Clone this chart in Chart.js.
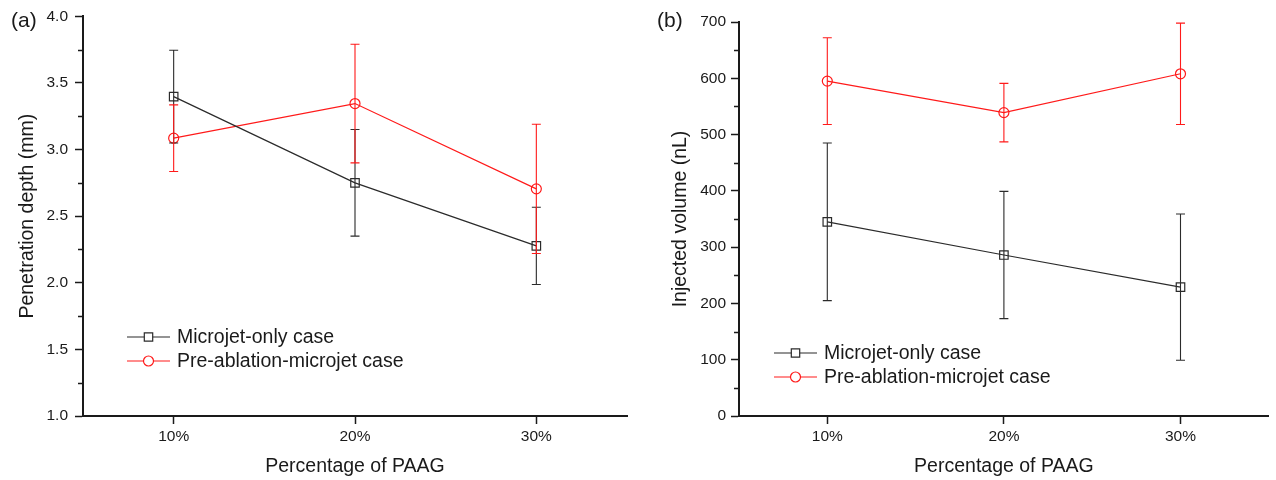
<!DOCTYPE html>
<html>
<head>
<meta charset="utf-8">
<script src="https://cdn.jsdelivr.net/npm/chart.js@4"></script>
<style>
  html, body { margin: 0; padding: 0; background: #fff; }
  #wrap { position: relative; width: 1276px; height: 480px; }
  canvas { position: absolute; top: 0; }
  #left { left: 0; }
  #right { left: 638px; }
</style>
</head>
<body>
<div id="wrap">
  <canvas id="left" width="638" height="480"></canvas>
  <canvas id="right" width="638" height="480"></canvas>
</div>
<script>
// Data
const categories = ['10%', '20%', '30%'];
const seriesNames = ['Microjet-only case', 'Pre-ablation-microjet case'];

// (a) penetration depth, mm
const depthMicrojet = [3.397, 2.75, 2.277];
const depthMicrojetErr = [0.348, 0.40, 0.29];
const depthPreAbl = [3.085, 3.345, 2.705];
const depthPreAblErr = [0.25, 0.445, 0.485];

// (b) injected volume, nL
const volMicrojet = [345, 286, 229];
const volMicrojetErr = [140, 113, 130];
const volPreAbl = [595, 539, 608];
const volPreAblErr = [77, 52, 90];

const FONT = '"Liberation Sans", Arial, sans-serif';
const INK = '#1a1a1a';
const BLACK = '#2b2b2b';
const RED = '#ff1a1a';

Chart.defaults.font.family = FONT;
Chart.defaults.color = INK;

// vertical error bars with caps, drawn through the y scale
const errorBars = {
  id: 'errorBars',
  afterDatasetsDraw(chart) {
    const ctx = chart.ctx;
    const y = chart.scales.y;
    chart.data.datasets.forEach((ds, i) => {
      const meta = chart.getDatasetMeta(i);
      meta.data.forEach((pt, j) => {
        const v = ds.data[j], e = ds.errors[j];
        const top = y.getPixelForValue(v + e);
        const bot = y.getPixelForValue(v - e);
        ctx.save();
        ctx.strokeStyle = ds.borderColor;
        ctx.lineWidth = 1.1;
        ctx.beginPath();
        ctx.moveTo(pt.x, top); ctx.lineTo(pt.x, bot);
        ctx.moveTo(pt.x - 4.5, top); ctx.lineTo(pt.x + 4.5, top);
        ctx.moveTo(pt.x - 4.5, bot); ctx.lineTo(pt.x + 4.5, bot);
        ctx.stroke();
        ctx.restore();
      });
    });
  }
};

// minor ticks halfway between the labelled ones
const minorTicks = {
  id: 'minorTicks',
  afterDraw(chart, args, opts) {
    const s = chart.scales.y;
    const ctx = chart.ctx;
    ctx.save();
    ctx.strokeStyle = INK;
    ctx.lineWidth = 1.5;
    ctx.beginPath();
    for (let v = s.min + opts.step / 2; v < s.max; v += opts.step) {
      const py = Math.round(s.getPixelForValue(v)) + 0.5;
      ctx.moveTo(s.right - 5, py);
      ctx.lineTo(s.right, py);
    }
    ctx.stroke();
    ctx.restore();
  }
};

// legend inside the plot + panel letter
const innerLegend = {
  id: 'innerLegend',
  afterDraw(chart, args, opts) {
    const ctx = chart.ctx;
    ctx.save();
    ctx.font = '21px ' + FONT;
    ctx.fillStyle = INK;
    ctx.textBaseline = 'middle';
    ctx.textAlign = 'left';
    ctx.fillText(opts.letter, opts.letterX, opts.letterY);

    ctx.font = '19.5px ' + FONT;
    chart.data.datasets.forEach((ds, i) => {
      const ry = opts.y + i * opts.gap;
      const x0 = opts.x, x1 = opts.x + 43, xm = opts.x + 21.5;
      ctx.strokeStyle = ds.borderColor;
      ctx.lineWidth = 1.2;
      ctx.beginPath();
      ctx.moveTo(x0, ry); ctx.lineTo(x1, ry);
      ctx.stroke();
      ctx.beginPath();
      if (ds.pointStyle === 'rect') {
        ctx.rect(xm - 4.2, ry - 4.2, 8.4, 8.4);
      } else {
        ctx.arc(xm, ry, 5, 0, Math.PI * 2);
      }
      ctx.fillStyle = '#fff';
      ctx.fill();
      ctx.stroke();
      ctx.fillStyle = INK;
      ctx.fillText(ds.label, opts.x + 50, ry + 1);
    });
    ctx.restore();
  }
};

function makePanel(id, cfg) {
  const datasets = [
    {
      label: seriesNames[0], data: cfg.a, errors: cfg.aErr,
      borderColor: BLACK, borderWidth: 1.2, backgroundColor: 'rgba(0,0,0,0)',
      pointStyle: 'rect', pointRadius: 6, pointBorderWidth: 1.2
    },
    {
      label: seriesNames[1], data: cfg.b, errors: cfg.bErr,
      borderColor: RED, borderWidth: 1.2, backgroundColor: 'rgba(0,0,0,0)',
      pointStyle: 'circle', pointRadius: 5, pointBorderWidth: 1.2
    }
  ];
  return new Chart(document.getElementById(id), {
    type: 'line',
    data: { labels: categories, datasets: datasets },
    plugins: [errorBars, minorTicks, innerLegend],
    options: {
      responsive: false,
      animation: false,
      devicePixelRatio: 1,
      layout: { padding: { top: cfg.top, right: cfg.right, left: 0, bottom: 0 } },
      plugins: {
        legend: { display: false },
        tooltip: { enabled: false },
        minorTicks: { step: cfg.step },
        innerLegend: cfg.legend
      },
      scales: {
        x: {
          type: 'category',
          offset: true,
          afterFit(s) { s.height = 64; },
          grid: { offset: false, drawOnChartArea: false, tickLength: 8, tickWidth: 1.5, tickColor: INK },
          border: { display: true, width: 2, color: INK },
          ticks: { font: { size: 15.5 }, color: INK, padding: 3 },
          title: {
            display: true, text: 'Percentage of PAAG',
            font: { size: 19.5 }, color: INK, padding: { top: 0, bottom: 2 }
          }
        },
        y: {
          min: cfg.min, max: cfg.max,
          afterFit(s) { s.width = cfg.yWidth; },
          grid: { drawOnChartArea: false, tickLength: 8, tickWidth: 1.5, tickColor: INK },
          border: { display: true, width: 2, color: INK },
          ticks: {
            stepSize: cfg.step, font: { size: 15.5 }, color: INK, padding: cfg.tickPad,
            callback: cfg.fmt
          },
          title: {
            display: true, text: cfg.yTitle,
            font: { size: 19.5 }, color: INK, padding: { top: cfg.titlePad, bottom: 0 }
          }
        }
      }
    }
  });
}

makePanel('left', {
  a: depthMicrojet, aErr: depthMicrojetErr,
  b: depthPreAbl, bErr: depthPreAblErr,
  min: 1, max: 4, step: 0.5,
  fmt: v => v.toFixed(1),
  yTitle: 'Penetration depth (mm)',
  top: 15, right: 11, yWidth: 83, tickPad: 7, titlePad: 16,
  legend: { letter: '(a)', letterX: 11, letterY: 21, x: 127, y: 337, gap: 24 }
});

makePanel('right', {
  a: volMicrojet, aErr: volMicrojetErr,
  b: volPreAbl, bErr: volPreAblErr,
  min: 0, max: 700, step: 100,
  fmt: v => String(v),
  yTitle: 'Injected volume (nL)',
  top: 22, right: 3, yWidth: 101, tickPad: 5, titlePad: 31,
  legend: { letter: '(b)', letterX: 19, letterY: 21, x: 136, y: 353, gap: 24 }
});
</script>
</body>
</html>
